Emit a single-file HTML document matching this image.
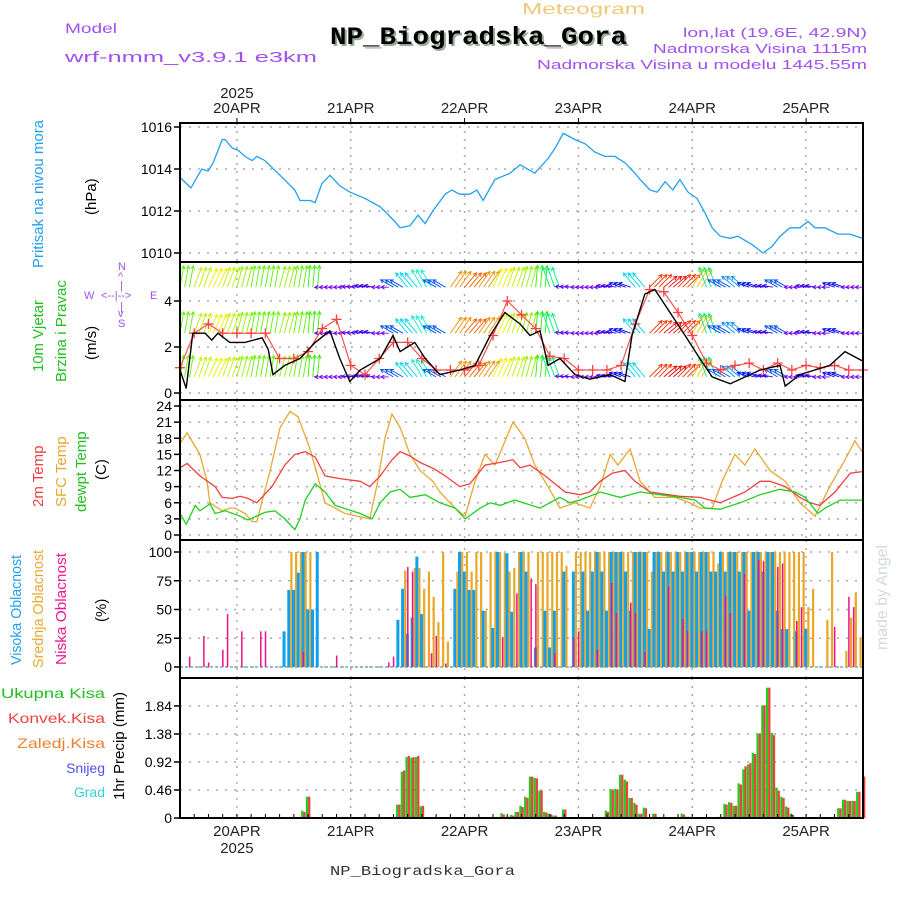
<!DOCTYPE html>
<html><head><meta charset="utf-8"><style>
html,body{margin:0;padding:0;background:#fff}
svg{display:block}
text{font-family:"Liberation Sans",sans-serif}
.mono{font-family:"Liberation Mono",monospace}
</style></head><body>
<svg id="chart" width="900" height="900" viewBox="0 0 900 900" xmlns="http://www.w3.org/2000/svg">
<rect width="900" height="900" fill="#fff"/>
<g id="header">
<text x="65" y="33" font-size="14" fill="#a050f0" textLength="52" lengthAdjust="spacingAndGlyphs">Model</text>
<text x="65" y="62" font-size="15" fill="#a050f0" textLength="252" lengthAdjust="spacingAndGlyphs">wrf-nmm_v3.9.1 e3km</text>
<text x="522" y="14" font-size="16" fill="#f0c878" textLength="123" lengthAdjust="spacingAndGlyphs">Meteogram</text>
<text class="mono" x="332" y="46" font-size="25" font-weight="bold" fill="#9a9" textLength="297" lengthAdjust="spacingAndGlyphs">NP_Biogradska_Gora</text>
<text class="mono" x="330" y="44" font-size="25" font-weight="bold" fill="#000" textLength="297" lengthAdjust="spacingAndGlyphs">NP_Biogradska_Gora</text>
<text x="683" y="37" font-size="13" fill="#a050f0" textLength="184" lengthAdjust="spacingAndGlyphs">lon,lat (19.6E, 42.9N)</text>
<text x="653" y="53" font-size="13" fill="#a050f0" textLength="214" lengthAdjust="spacingAndGlyphs">Nadmorska Visina 1115m</text>
<text x="537" y="69" font-size="13" fill="#a050f0" textLength="330" lengthAdjust="spacingAndGlyphs">Nadmorska Visina u modelu 1445.55m</text>
<text class="mono" x="330" y="875" font-size="14" fill="#333" textLength="185" lengthAdjust="spacingAndGlyphs">NP_Biogradska_Gora</text>
<text transform="translate(887,650) rotate(-90)" font-size="16" fill="#cfdccf" font-family="Liberation Serif" textLength="105" lengthAdjust="spacingAndGlyphs">made by Angel</text>
</g>
<g id="labels" font-size="15">
<text transform="translate(43,268) rotate(-90)" fill="#20a0f0" textLength="148" lengthAdjust="spacingAndGlyphs">Pritisak na nivou mora</text>
<text transform="translate(96,215) rotate(-90)" fill="#000">(hPa)</text>
<text transform="translate(43,372) rotate(-90)" fill="#20c020" textLength="72" lengthAdjust="spacingAndGlyphs">10m Vjetar</text>
<text transform="translate(66,382) rotate(-90)" fill="#20c020" textLength="102" lengthAdjust="spacingAndGlyphs">Brzina i Pravac</text>
<text transform="translate(96,360) rotate(-90)" fill="#000">(m/s)</text>
<g fill="#a050f0" font-size="11">
<text x="118" y="270">N</text><text x="118" y="280">^</text><text x="120" y="289">|</text>
<text x="84" y="299">W</text><text x="101" y="299">&lt;--|--&gt;</text><text x="150" y="299">E</text>
<text x="120" y="310">|</text><text x="118" y="317">v</text><text x="118" y="327">S</text>
</g>
<text transform="translate(43,507) rotate(-90)" fill="#f04040">2m Temp</text>
<text transform="translate(66,507) rotate(-90)" fill="#e8a830">SFC Temp</text>
<text transform="translate(86,512) rotate(-90)" fill="#20c020">dewpt Temp</text>
<text transform="translate(106,480) rotate(-90)" fill="#000">(C)</text>
<text transform="translate(21,665) rotate(-90)" fill="#20a0f0" textLength="110" lengthAdjust="spacingAndGlyphs">Visoka Oblacnost</text>
<text transform="translate(43,668) rotate(-90)" fill="#e8a830" textLength="118" lengthAdjust="spacingAndGlyphs">Srednja Oblacnost</text>
<text transform="translate(66,665) rotate(-90)" fill="#f01890" textLength="112" lengthAdjust="spacingAndGlyphs">Niska Oblacnost</text>
<text transform="translate(106,622) rotate(-90)" fill="#000">(%)</text>
<g text-anchor="end" font-size="14">
<text x="105" y="698" fill="#20c020" textLength="104" lengthAdjust="spacingAndGlyphs">Ukupna  Kisa</text>
<text x="105" y="723" fill="#f04040" textLength="97" lengthAdjust="spacingAndGlyphs">Konvek.Kisa</text>
<text x="105" y="748" fill="#f08030" textLength="88" lengthAdjust="spacingAndGlyphs">Zaledj.Kisa</text>
<text x="105" y="773" fill="#5050f0">Snijeg</text>
<text x="105" y="797" fill="#30d0d0">Grad</text>
</g>
<text transform="translate(124,800) rotate(-90)" fill="#000" textLength="108" lengthAdjust="spacingAndGlyphs">1hr Precip (mm)</text>
</g>
<g id="plot"></g>
</svg>
<script>
// ---- data ----
const dayLabels = ["20APR","21APR","22APR","23APR","24APR","25APR"];
const dayHours = [12,36,60,84,108,132];
const pressTicks = [1010,1012,1014,1016];
const windTicks = [0,2,4];
const tempTicks = [0,3,6,9,12,15,18,21,24];
const cloudTicks = [0,25,50,75,100];
const precTicks = [0,0.46,0.92,1.38,1.84];

const pressHours = [0,2.3,4.6,5.9,7,8.9,9.5,11,12.2,13.7,15.2,16.2,17.9,21.1,24.2,25.3,27.4,28.5,29.9,31.6,33.7,35.8,39,42.2,45.3,46.4,48.5,50.2,51.7,53.3,55.9,57.3,59,61.1,62.6,63.9,66.4,69.6,71.7,74.8,77.6,79.1,80.8,83.3,85.4,87.5,89.6,91.7,93.8,95.9,97,99.1,100.6,102.3,103.9,105.4,107.1,109,110.7,112.2,113.9,116,117.6,120.6,122.9,124.8,126.5,128.6,130.7,132.4,133.9,136,138.7,141.3,143.8];
const pressVals = [1013.6,1013.1,1014,1013.9,1014.3,1015.4,1015.4,1015,1014.9,1014.6,1014.4,1014.6,1014.4,1013.7,1013,1012.5,1012.5,1012.4,1013.3,1013.7,1013.2,1012.9,1012.6,1012.2,1011.5,1011.2,1011.3,1011.8,1011.4,1012,1012.8,1013,1012.8,1012.8,1013,1012.5,1013.5,1013.8,1014.2,1013.8,1014.5,1015,1015.7,1015.4,1015.2,1014.8,1014.6,1014.6,1014.3,1013.8,1013.5,1013,1012.9,1013.4,1013,1013.5,1012.9,1012.6,1011.9,1011.2,1010.8,1010.7,1010.8,1010.4,1010,1010.3,1010.8,1011.2,1011.2,1011.5,1011.2,1011.2,1010.9,1010.9,1010.7];

const t2Hours = [0,1.5,4.2,7.4,8.9,11,12.7,14.3,16.2,19.4,22.1,24.2,26.4,28.5,30.6,33.7,38,40,42.2,44.7,46.4,48.5,50.6,53.8,55.9,59,61.1,64.3,67.5,70.2,71.7,73.8,77,81.2,84.3,86.4,88.6,91.1,93.8,95.9,99.1,105.4,109.6,113.9,119.1,122.3,124.4,127.6,130.7,132.8,134.9,138.1,141.3,143.8];
const t2Vals = [12.5,13.3,11,9,7,6.8,7.2,6.8,6,9,13,15,15.5,14.5,11,10.5,10,9,11,14,15.5,14.7,13.5,12.2,11,9,9.5,13,13.5,14,12.5,13,11,8,7.5,8,10,11.5,12,10,8,7.2,7,6,8,10,10,9,7,6,5.5,8,11.5,11.8];
const sfcHours = [0,1.5,4.2,5.7,6.3,8.9,10.5,11.6,13.7,15.2,16.2,19,21.1,23.2,24.9,27.4,30.6,34.8,40,41.7,43.2,44.7,46.4,48.5,50.6,53.3,54.8,58,60.1,62.2,64.3,66.4,70.2,72.7,74.8,77.6,80.1,83.3,86.4,88.6,90.7,92.3,94.9,97,100.1,104.4,107.5,109.6,112.2,114.3,117,119.1,121.2,124.4,127.6,130.7,133.9,137,140.2,142.3,143.8];
const sfcVals = [17,19,15,10,6,4.5,5,5,4,2.5,2.5,12,20,23,22,16,6,4,3,10,18,22.5,20,15,12,10,8,5,3.5,10,15,13,21,18,13,9,5,6,5,9,15,13,16,10,7,7,6,5,5,10,15,13,16,12,10,6,3.5,9,14,17.5,15.5];
const dewHours = [0,1.3,3.2,4.2,6.3,7.4,9.5,12.7,14.3,17.9,20,22.1,24.2,25.3,26.4,28.5,30.6,32.7,38,40.5,42.2,44.3,46.4,48.5,51.7,54.8,58,60.1,63.3,65.4,67.5,70.6,75.9,80.1,82.2,84.3,88.6,92.8,97,101.2,105.4,108.6,110.7,113.9,118.1,122.3,126.5,129.7,131.8,134.5,136,139.2,143.8];
const dewVals = [4,2,5.5,4.5,5.8,4,4.5,3.5,2.8,4.2,4.5,3,1,3,6.5,9.5,8,5.5,4,3,6,8,8.5,7,7.5,6,5,3,5,6,5.5,6.5,5,7,6,6.5,8,7,8,7.5,7,6.5,5,4.8,6,7.5,8.5,8,7,4,5,6.5,6.5];

const windHours = [0,1.3,2.7,5.3,6.7,8,10.5,13.7,17.3,18.6,19.6,22.1,25.3,28.5,31.6,33.7,35.8,38,42.2,44.9,46.4,49.5,51.7,54.8,59,62.2,65.4,68.5,71.7,73.8,75.9,77.6,80.1,83.3,86.4,90.7,93.8,95.3,98,100.1,103.3,106.5,109.6,112.2,116,122.3,126.5,127.6,130.7,137,140.2,143.8];
const windVals = [1,0.2,2.6,2.6,2.3,2.6,2.2,2.2,2.4,1.9,0.8,1.2,1.5,2.2,2.7,1.5,0.5,1,1.5,2.5,1.8,2.2,1.5,0.8,1,1.2,2.5,3.5,3,2.5,2.7,1.2,1.5,0.8,0.6,0.8,0.5,2.5,4.3,4.5,3.5,2.5,1.5,0.7,0.4,1,1.2,0.3,0.8,1.2,1.8,1.4];
// 3-hourly (h = 0,3,...,144)
const gustVals = [1.1,2.6,3.0,2.6,2.6,2.6,2.6,1.5,1.5,1.8,2.8,3.2,1.2,0.8,1.5,2.2,2.2,1.5,1.0,1.0,1.0,1.2,2.5,4.0,3.4,2.8,1.6,1.5,1.0,1.0,1.0,1.2,3.0,4.5,4.4,3.5,2.5,1.3,1.0,1.2,1.3,1.0,1.3,1.0,1.2,1.1,1.2,1.0,1.0];
const windDir = [10,20,25,20,15,10,10,15,10,5,-90,-90,-85,-80,-90,-60,-40,-30,-60,35,40,35,25,20,15,5,-20,-85,-90,-90,-80,-70,-40,45,50,45,30,-20,-60,-50,-70,-80,-60,-90,-80,-90,-70,-90,-90];
const arrowLevels = [0.7,2.6,4.6];

// hourly (h = 0..144)
const cloudHigh = [0,0,0,0,0,0,0,0,0,0, 0,0,0,0,0,0,0,0,0,0, 0,0,31,67,67,82,100,50,50,100, 0,0,0,0,0,0,0,0,0,0, 0,0,0,0,0,0,41,68,29,43, 96,46,0,0,0,0,0,0,68,100, 83,67,67,0,49,0,34,100,0,99, 48,0,100,83,0,17,0,49,17,49, 0,83,0,83,0,83,49,83,100,83, 49,100,100,100,83,49,100,100,100,33, 100,100,83,100,83,100,83,100,100,83, 100,100,83,83,100,83,100,100,83,100, 49,100,100,83,100,100,49,33,33,0, 31,0,33,0,0,0,0,0,0,0, 0,0,0,0,0];
const cloudMid = [0,0,0,0,0,0,0,0,0,0, 0,0,0,0,0,0,0,0,0,0, 0,0,0,100,100,100,100,100,0,0, 0,0,0,0,0,0,0,0,0,0, 0,0,0,0,0,0,0,84,0,86, 86,68,83,61,39,100,22,0,83,100, 100,83,100,100,49,100,100,100,99,83, 86,100,100,100,0,100,100,100,100,100, 100,88,0,100,100,100,100,100,100,100, 100,100,100,100,100,100,100,100,100,83, 100,100,100,100,100,100,100,100,100,100, 100,100,100,90,100,100,100,100,100,100, 100,100,100,100,100,100,100,100,100,100, 100,100,52,68,0,0,41,100,0,0, 14,43,65,26,0];
const lowHours = [2,5,6,9,10,13,17,18,26,33,44,45,48,49,53,54,56,68,71,74,75,79,83,84,88,91,92,95,96,98,103,106,107,110,111,115,116,119,122,123,126,127,130,131,138,141,142];
const lowVals = [9,27,4,15,46,31,31,31,13,10,4,9,87,83,12,27,3,26,64,77,72,12,26,31,15,73,47,56,47,13,70,42,31,31,31,62,47,81,93,92,87,90,40,52,35,61,52];

const precHours = [26,27,46,47,48,49,50,51,68,69,70,71,72,73,74,75,76,77,78,79,81,90,91,92,93,94,95,96,97,98,100,106,107,114,115,116,117,118,119,120,121,122,123,124,125,126,127,128,129,139,140,141,142,143,144];
const precTotal = [0.12,0.35,0.22,0.76,1.0,0.99,1.0,0.19,0.08,0.02,0.05,0.1,0.2,0.35,0.68,0.66,0.45,0.1,0.07,0.04,0.14,0.12,0.48,0.48,0.71,0.63,0.33,0.25,0.07,0.17,0.07,0.07,0.02,0.02,0.23,0.26,0.2,0.57,0.8,0.88,1.07,1.39,1.85,2.14,1.4,0.5,0.35,0.19,0.07,0.16,0.3,0.28,0.28,0.43,0.0];
const precConv = [0.1,0.35,0.22,0.78,1.02,1.0,1.02,0.2,0.06,0.02,0.04,0.1,0.18,0.33,0.68,0.65,0.45,0.09,0.06,0.04,0.14,0.1,0.46,0.47,0.71,0.6,0.33,0.22,0.07,0.16,0.07,0.06,0.02,0.02,0.22,0.25,0.2,0.55,0.85,0.9,1.05,1.39,1.85,2.14,1.36,0.45,0.33,0.17,0.05,0.16,0.3,0.28,0.28,0.43,0.68];

// ---- axes ----
const X0 = 180, X1 = 863, HMAX = 144;
const X = h => X0 + h * (X1 - X0) / HMAX;
const panels = {
  press: {top:123, bot:262, y:v => 253 - (v - 1010) * 21},
  wind:  {top:262, bot:400, y:v => 393 - v * 23},
  temp:  {top:400, bot:540, y:v => 535 - v * 5.375},
  cloud: {top:540, bot:678, y:v => 667 - v * 1.15},
  prec:  {top:678, bot:818, y:v => 818 - v * 60.9}
};
const NS = "http://www.w3.org/2000/svg";
const plot = document.getElementById('plot');
function el(tag, attrs, parent) {
  const e = document.createElementNS(NS, tag);
  for (const k in attrs) e.setAttribute(k, attrs[k]);
  (parent || plot).appendChild(e);
  return e;
}
function grp(name) {
  const g = el('g', {});
  
  
  return g;
}

function drawGrid(p, ticks, fmt, name) {
  const g = grp(name + '-axis');
  ticks.forEach(t => {
    const y = p.y(t);
    el('line', {x1:X0, x2:X1, y1:y, y2:y, stroke:'#aaa', 'stroke-width':1.5, 'stroke-dasharray':'2,7'}, g);
    el('line', {x1:X0-6, x2:X0, y1:y, y2:y, stroke:'#000', 'stroke-width':1.5}, g);
    const tx = el('text', {x:X0-8, y:y+5, 'text-anchor':'end', 'font-size':14, fill:'#000'}, g);
    
    
    tx.textContent = fmt(t);
  });
  dayHours.forEach(h => {
    el('line', {x1:X(h), x2:X(h), y1:p.top, y2:p.bot, stroke:'#aaa', 'stroke-width':1.5, 'stroke-dasharray':'2,6'}, g);
  });
}
drawGrid(panels.press, pressTicks, String, 'pressure');
drawGrid(panels.wind, windTicks, String, 'wind');
drawGrid(panels.temp, tempTicks, String, 'temperature');
drawGrid(panels.cloud, cloudTicks, String, 'cloud');
drawGrid(panels.prec, precTicks, t => t === 0 ? '0' : t.toFixed(2), 'precip');

const tg = grp('time-axis');
dayHours.forEach((h, i) => {
  const a = el('text', {x:X(h), y:113, 'text-anchor':'middle', 'font-size':15, fill:'#222'}, tg);
  
  
  a.textContent = dayLabels[i];
  const b = el('text', {x:X(h), y:836, 'text-anchor':'middle', 'font-size':15, fill:'#222'}, tg);
  
  
  b.textContent = dayLabels[i];
  el('line', {x1:X(h), x2:X(h), y1:118, y2:123, stroke:'#000'}, tg);
});
const y1 = el('text', {x:X(dayHours[0]), y:98, 'text-anchor':'middle', 'font-size':15, fill:'#222'}, tg);


y1.textContent = '2025';
const y2 = el('text', {x:X(dayHours[0]), y:853, 'text-anchor':'middle', 'font-size':15, fill:'#222'}, tg);


y2.textContent = '2025';

function line(hours, vals, p, color, name, w) {
  const n = Math.min(hours.length, vals.length);
  let d = '';
  for (let i = 0; i < n; i++) d += (i ? 'L' : 'M') + X(hours[i]).toFixed(1) + ',' + p.y(vals[i]).toFixed(1);
  const e = el('path', {d:d, fill:'none', stroke:color, 'stroke-width':w || 1.3});
  
  
  return e;
}

line(pressHours, pressVals, panels.press, '#20a0f0', 'pressure-line');

// wind arrows
const wg = grp('wind-arrows');
for (let h = 0; h <= HMAX; h++) {
  const a = windDir[Math.floor(h / 3)];
  const r = a * Math.PI / 180;
  let hue = a >= 0 ? 120 - a * 2.4 : 120 - a * 1.67;
  if (hue < 0) hue += 360;
  const col = 'hsl(' + hue.toFixed(0) + ',100%,47%)';
  const L = 22 * (0.35 + 0.65 * Math.abs(Math.cos(r)));
  arrowLevels.forEach(lv => {
    const x0 = X(h), y0 = panels.wind.y(lv);
    const x1 = x0 + L * Math.sin(r), yy = y0 - L * Math.cos(r);
    const ar = el('path', {d:'M'+x0.toFixed(1)+','+y0.toFixed(1)+'L'+x1.toFixed(1)+','+yy.toFixed(1)+
      'M'+(x1 - 4*Math.sin(r-0.5)).toFixed(1)+','+(yy + 4*Math.cos(r-0.5)).toFixed(1)+'L'+x1.toFixed(1)+','+yy.toFixed(1)+
      'L'+(x1 - 4*Math.sin(r+0.5)).toFixed(1)+','+(yy + 4*Math.cos(r+0.5)).toFixed(1),
      fill:'none', stroke:col, 'stroke-width':0.9}, wg);
    
    
  });
}
const gustHours = gustVals.map((v, i) => i * 3);
line(gustHours, gustVals, panels.wind, '#ff5050', 'gust-line', 1.2);
const cg = grp('gust-markers');
gustVals.forEach((v, i) => {
  const x = X(i * 3), y = panels.wind.y(v);
  const c = el('path', {d:'M'+(x-5)+','+y+'h10M'+x+','+(y-5)+'v10', stroke:'#ff4040', 'stroke-width':1.3}, cg);
  
  
});
line(windHours, windVals, panels.wind, '#000', 'wind-speed-line', 1.4);

line(sfcHours, sfcVals, panels.temp, '#e8a830', 'sfc-temp-line');
line(t2Hours, t2Vals, panels.temp, '#f04040', 't2m-temp-line');
line(dewHours, dewVals, panels.temp, '#20d020', 'dewpoint-line');

const clg = grp('cloud-bars');
el('line', {x1:X0, x2:X1, y1:panels.cloud.y(0), y2:panels.cloud.y(0), stroke:'#7ab', 'stroke-width':1.5, 'stroke-dasharray':'3,2'}, clg);
for (let h = 0; h <= HMAX; h++) {
  const x = X(h);
  if (cloudHigh[h] > 0) {
    const b = el('rect', {x:x-1.8, y:panels.cloud.y(cloudHigh[h]), width:3, height:panels.cloud.y(0)-panels.cloud.y(cloudHigh[h]), fill:'#10a0f0'}, clg);
    
    
  }
  if (cloudMid[h] > 0) {
    const b = el('rect', {x:x+1.2, y:panels.cloud.y(cloudMid[h]), width:2.2, height:panels.cloud.y(0)-panels.cloud.y(cloudMid[h]), fill:'#e8a828'}, clg);
    
    
  }
}
lowHours.forEach((h, i) => {
  const x = X(h);
  const b = el('rect', {x:x-0.6, y:panels.cloud.y(lowVals[i]), width:1.5, height:panels.cloud.y(0)-panels.cloud.y(lowVals[i]), fill:'#f0108a'}, clg);
  
  
});

const pg = grp('precip-bars');
precHours.forEach((h, i) => {
  const x = X(h);
  if (precTotal[i] > 0) {
    const b = el('rect', {x:x-2.2, y:panels.prec.y(precTotal[i]), width:2.3, height:panels.prec.y(0)-panels.prec.y(precTotal[i]), fill:'#20d020'}, pg);
    
    
  }
  if (precConv[i] > 0) {
    const b = el('rect', {x:x, y:panels.prec.y(precConv[i]), width:2.3, height:panels.prec.y(0)-panels.prec.y(precConv[i]), fill:'#f04040'}, pg);
    
    
  }
});

const fg = grp('panel-frames');
[panels.press, panels.wind, panels.temp, panels.cloud, panels.prec].forEach(p => {
  el('rect', {x:X0, y:p.top, width:X1-X0, height:p.bot-p.top, fill:'none', stroke:'#000', 'stroke-width':2}, fg);
});
for (let h = 0; h <= HMAX; h += 3) {
  el('line', {x1:X(h), x2:X(h), y1:818, y2:814, stroke:'#000'}, fg);
}
</script>
</body></html>
